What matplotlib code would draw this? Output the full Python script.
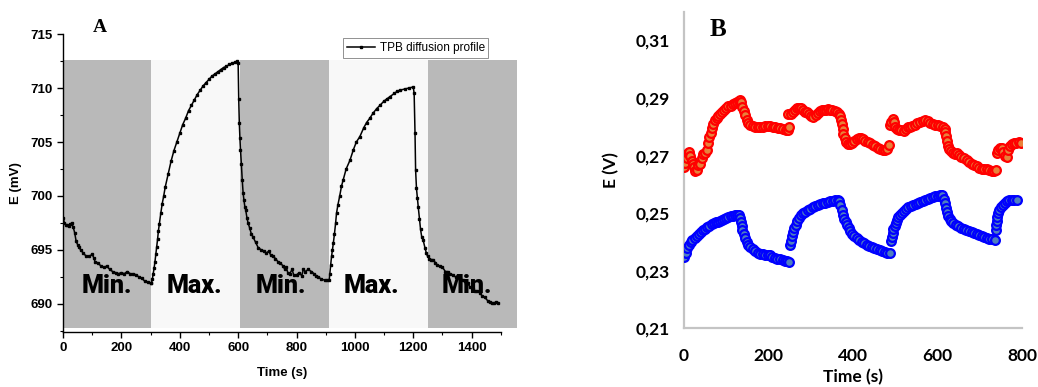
import matplotlib
matplotlib.use("Agg")
import matplotlib.pyplot as plt
from matplotlib.patches import Rectangle

# ---------------- Panel A data ----------------
a_time = [0,5,10,15,20,25,30,35,40,45,50,55,60,70,80,90,100,105,110,120,130,140,150,160,170,180,190,200,210,220,230,240,250,260,270,280,290,300,
          303,306,309,312,315,318,321,324,327,330,335,340,345,350,360,370,380,390,400,410,420,430,440,450,460,470,480,490,500,510,520,530,540,550,560,570,580,590,597,
          600,602,604,606,608,611,614,617,620,623,626,630,634,640,645,651,660,669,680,690,697,705,712,720,728,737,745,754,760,765,770,777,785,790,800,810,818,823,830,840,851,860,868,874,885,897,905,912,
          914,917,920,923,926,930,934,937,942,948,954,960,970,983,995,1005,1017,1030,1040,1051,1063,1075,1086,1100,1110,1120,1135,1145,1154,1170,1185,1200,
          1203,1206,1208,1211,1214,1217,1221,1225,1229,1234,1240,1245,1249,1255,1262,1269,1276,1283,1291,1300,1310,1318,1326,1335,1345,1352,1360,1370,1380,1387,1394,1403,1410,1420,1429,1437,1445,1455,1463,1470,1478,1485,1491]
a_E = [698.0,697.5,697.3,697.3,697.2,697.4,697.5,697.1,696.6,695.8,695.5,695.3,695.0,694.7,694.4,694.4,694.6,694.3,693.9,693.8,693.5,693.4,693.5,693.2,693.0,692.9,692.8,692.9,692.8,693.0,692.8,692.8,692.7,692.5,692.4,692.1,692.0,691.9,
       691.9,692.3,692.8,693.3,693.9,694.6,695.3,696.0,696.8,697.4,698.4,699.3,700.0,700.8,702.0,703.2,704.2,705.0,705.8,706.6,707.2,707.9,708.4,708.9,709.4,709.8,710.2,710.5,710.8,711.1,711.3,711.5,711.7,711.9,712.0,712.2,712.3,712.4,712.5,
       712.3,709.0,706.8,705.4,704.3,703.0,701.5,700.3,699.6,699.0,698.7,698.0,697.5,697.0,696.5,696.2,695.7,695.2,695.0,694.9,694.7,694.9,694.5,694.4,694.2,693.9,693.8,693.5,693.2,693.4,692.9,692.8,693.2,692.7,692.7,692.9,692.6,693.2,693.0,693.2,693.0,692.8,692.6,692.5,692.3,692.2,692.2,692.2,
       692.8,693.6,694.4,695.0,695.6,696.5,697.5,698.4,699.2,700.0,700.9,701.5,702.5,703.3,704.3,705.0,705.5,706.3,706.8,707.2,707.7,708.1,708.4,708.8,709.0,709.2,709.5,709.7,709.8,709.9,710.0,710.1,
       709.5,705.8,702.4,700.7,699.8,699.0,697.9,696.9,696.2,695.9,695.2,694.7,694.4,694.2,694.1,694.1,693.8,693.6,693.5,693.4,693.0,693.0,692.8,692.7,692.5,692.6,692.4,692.2,691.9,691.9,691.6,691.4,691.2,691.2,691.0,690.7,690.6,690.3,690.2,690.1,690.1,690.2,690.1]

phase_starts = [0, 303, 608, 912, 1249]
phase_ends = [303, 608, 912, 1249, 1555]
phase_labels = ["Min.", "Max.", "Min.", "Max.", "Min."]
phase_label_x = [150, 450, 745, 1055, 1385]
a_xticks = [0, 200, 400, 600, 800, 1000, 1200, 1400]
a_yticks = [690, 695, 700, 705, 710, 715]

# ---------------- Panel B data ----------------
blue_segments_t = [
    [0,4,8,12,16,20,25,30,35,40,45,50,55,60,65,70,75,80,85,90,95,100,105,110,115,120,125,129,132,134,136,138,141,144,148,152,156,162,168,174,180,186,192,198,203,209,215,221,227,233,239,244,249],
    [251,253,255,258,261,264,268,272,277,282,287,292,298,304,310,316,322,328,334,340,346,353,358,363,367,370,373,376,379,382,385,389,393,397,402,408,414,420,426,432,438,444,450,456,463,469,475,481,487],
    [489,491,493,495,498,501,504,507,511,515,520,525,530,536,542,548,553,558,564,570,576,582,588,594,600,606,611,614,617,619,621,624,628,632,637,643,649,655,661,667,674,680,686,692,698,704,710,716,722,728,735],
    [737,738,739,741,743,746,750,754,758,763,769,775,781,787],
]
blue_segments_E = [
    [0.2348,0.2362,0.2378,0.2390,0.2400,0.2408,0.2414,0.2422,0.2428,0.2434,0.2440,0.2446,0.2451,0.2456,0.2461,0.2465,0.2468,0.2471,0.2474,0.2477,0.2480,0.2483,0.2486,0.2489,0.2491,0.2493,0.2494,0.2492,0.2482,0.2468,0.2454,0.2440,0.2426,0.2412,0.2400,0.2390,0.2382,0.2374,0.2367,0.2362,0.2359,0.2357,0.2355,0.2354,0.2353,0.2349,0.2345,0.2342,0.2340,0.2337,0.2335,0.2333,0.2330],
    [0.2388,0.2405,0.2420,0.2435,0.2448,0.2460,0.2472,0.2483,0.2492,0.2499,0.2505,0.2511,0.2516,0.2520,0.2524,0.2528,0.2532,0.2535,0.2537,0.2539,0.2541,0.2543,0.2545,0.2546,0.2542,0.2528,0.2510,0.2494,0.2480,0.2468,0.2458,0.2447,0.2438,0.2429,0.2421,0.2413,0.2407,0.2401,0.2396,0.2391,0.2387,0.2383,0.2379,0.2375,0.2371,0.2367,0.2364,0.2362,0.2361],
    [0.2405,0.2418,0.2432,0.2444,0.2456,0.2467,0.2477,0.2486,0.2495,0.2502,0.2509,0.2515,0.2520,0.2525,0.2529,0.2532,0.2535,0.2538,0.2542,0.2546,0.2550,0.2553,0.2555,0.2558,0.2560,0.2562,0.2562,0.2550,0.2535,0.2518,0.2503,0.2490,0.2480,0.2473,0.2467,0.2460,0.2454,0.2449,0.2445,0.2441,0.2437,0.2433,0.2430,0.2427,0.2424,0.2420,0.2417,0.2414,0.2411,0.2409,0.2408],
    [0.2443,0.2458,0.2474,0.2488,0.2500,0.2512,0.2522,0.2530,0.2537,0.2541,0.2544,0.2546,0.2547,0.2547],
]
red_segments_t = [
    [0,3,6,9,12,15,18,21,24,27,30,34,38,42,46,50,54,57,60,63,66,69,73,77,81,85,90,95,100,105,110,115,120,125,129,132,135,138,141,144,148,152,157,162,168,174,180,186,192,198,204,210,216,222,228,234,240,245,249],
    [247,252,257,262,266,271,276,281,286,291,296,301,306,311,316,321,326,331,336,341,346,351,356,361,366,369,371,373,375,377,380,384,388,393,398,403,408,413,418,423,428,434,440,446,452,458,464,470,475,480,485],
    [487,490,493,496,499,503,508,513,519,524,529,534,540,546,552,558,564,570,576,582,588,594,600,606,612,616,618,620,622,624,627,631,636,641,646,651,656,662,668,674,680,686,692,698,704,710,716,722,728,734,738],
    [739,743,747,751,755,759,763,767,771,775,780,786,792,798],
]
red_segments_E = [
    [0.2659,0.2675,0.2693,0.2710,0.2714,0.2698,0.2682,0.2672,0.2659,0.2645,0.2650,0.2668,0.2672,0.2690,0.2705,0.2710,0.2718,0.2745,0.2765,0.2780,0.2795,0.2810,0.2822,0.2830,0.2838,0.2843,0.2850,0.2858,0.2866,0.2872,0.2874,0.2878,0.2882,0.2885,0.2890,0.2893,0.2885,0.2870,0.2855,0.2840,0.2822,0.2812,0.2806,0.2802,0.2800,0.2798,0.2798,0.2800,0.2802,0.2804,0.2803,0.2800,0.2798,0.2797,0.2795,0.2793,0.2790,0.2788,0.2800],
    [0.2843,0.2846,0.2850,0.2858,0.2864,0.2866,0.2864,0.2858,0.2852,0.2850,0.2846,0.2838,0.2834,0.2840,0.2848,0.2854,0.2858,0.2860,0.2860,0.2862,0.2860,0.2860,0.2856,0.2852,0.2846,0.2838,0.2825,0.2810,0.2793,0.2776,0.2760,0.2748,0.2742,0.2742,0.2745,0.2752,0.2758,0.2762,0.2760,0.2756,0.2752,0.2748,0.2744,0.2738,0.2732,0.2726,0.2722,0.2720,0.2718,0.2724,0.2738],
    [0.2808,0.2818,0.2826,0.2815,0.2800,0.2792,0.2790,0.2788,0.2787,0.2794,0.2800,0.2799,0.2803,0.2808,0.2812,0.2816,0.2820,0.2824,0.2820,0.2814,0.2810,0.2808,0.2805,0.2802,0.2798,0.2794,0.2783,0.2768,0.2752,0.2735,0.2722,0.2716,0.2710,0.2705,0.2708,0.2702,0.2696,0.2690,0.2685,0.2677,0.2672,0.2668,0.2663,0.2658,0.2655,0.2654,0.2653,0.2650,0.2648,0.2648,0.2650],
    [0.2710,0.2720,0.2728,0.2726,0.2712,0.2700,0.2695,0.2718,0.2733,0.2740,0.2744,0.2745,0.2746,0.2745],
]
b_xticks = [0, 200, 400, 600, 800]
b_yticks = [0.21, 0.23, 0.25, 0.27, 0.29, 0.31]
b_ytick_labels = ["0,21", "0,23", "0,25", "0,27", "0,29", "0,31"]

# ---------------- Figure ----------------
fig = plt.figure(figsize=(10.38, 3.87), dpi=100)
fig.patch.set_facecolor("white")

# Panel A
axA = fig.add_axes([0.0607, 0.1421, 0.4218, 0.7699])
axA.set_xlim(0, 1500)
axA.set_ylim(687.4, 715)
band_colors = ["#b9b9b9", "#f8f8f8", "#b9b9b9", "#f8f8f8", "#b9b9b9"]
for s, e, c in zip(phase_starts, phase_ends, band_colors):
    axA.add_patch(Rectangle((s, 687.8), e - s, 712.6 - 687.8, facecolor=c,
                            edgecolor="none", zorder=0, clip_on=False))
for lx, lab in zip(phase_label_x, phase_labels):
    axA.text(lx, 691.7, lab, ha="center", va="center", fontsize=18,
             fontweight="heavy", family="Roboto", color="black", zorder=5)
axA.plot(a_time, a_E, color="black", lw=1.1, marker="s", ms=2.0,
         mec="black", mfc="black", zorder=4, label="TPB diffusion profile")
for sp in ["top", "right"]:
    axA.spines[sp].set_visible(False)
axA.spines["left"].set_linewidth(1.0)
axA.spines["bottom"].set_linewidth(1.0)
axA.set_xticks(a_xticks)
axA.set_xticklabels([str(v) for v in a_xticks], fontweight="bold",
                    family="Liberation Sans", fontsize=9.5)
axA.set_yticks(a_yticks)
axA.set_yticklabels([str(v) for v in a_yticks], fontweight="bold",
                    family="Liberation Sans", fontsize=9.5)
axA.set_xticks(range(0, 1501, 100), minor=True)
axA.set_yticks([687.5 + 2.5 * i for i in range(11)], minor=True)
axA.tick_params(which="major", direction="out", length=4, width=1)
axA.tick_params(which="minor", direction="out", length=2.5, width=0.8)
axA.set_xlabel("Time (s)", fontsize=9.5, fontweight="bold", family="Liberation Sans", labelpad=9)
axA.set_ylabel("E (mV)", fontsize=9.5, fontweight="bold", family="Liberation Sans", labelpad=6)
leg = axA.legend(loc="upper right", bbox_to_anchor=(0.985, 1.005),
                 frameon=True, fancybox=False, framealpha=1, edgecolor="#808080",
                 handlelength=2.4, borderpad=0.3, handletextpad=0.4,
                 prop={"family": "Liberation Sans", "size": 8.5})
leg.get_frame().set_linewidth(0.6)
fig.text(100 / 1038, 1 - 27 / 387, "A", fontsize=14, fontweight="bold",
         family="Liberation Serif", ha="center", va="center")

# Panel B
axB = fig.add_axes([0.659, 0.1517, 0.3259, 0.8181])
axB.set_xlim(0, 800)
axB.set_ylim(0.21, 0.32)
for t, e in zip(red_segments_t, red_segments_E):
    axB.plot(t, e, linestyle="none", marker="o", ms=6.3, mec="#ff0000",
             mfc="#e8813a", mew=1.6, zorder=3)
for t, e in zip(blue_segments_t, blue_segments_E):
    axB.plot(t, e, linestyle="none", marker="o", ms=6.3, mec="#0000ff",
             mfc="#4f7fbf", mew=1.6, zorder=3)
for sp in ["top", "right"]:
    axB.spines[sp].set_visible(False)
for sp in ["left", "bottom"]:
    axB.spines[sp].set_color("#c4c4c4")
    axB.spines[sp].set_linewidth(1.6)
axB.set_xticks(b_xticks)
axB.set_xticklabels([str(v) for v in b_xticks], fontweight="bold",
                    family="Lato", fontsize=12.5)
axB.set_yticks(b_yticks)
axB.set_yticklabels(b_ytick_labels, fontweight="bold", family="Lato",
                    fontsize=12.5)
axB.tick_params(axis="y", length=0, pad=10)
axB.tick_params(axis="x", length=0, pad=14)
axB.set_xlabel("Time (s)", fontsize=12.5, fontweight="bold", family="Lato", labelpad=4)
axB.set_ylabel("E (V)", fontsize=12.5, fontweight="bold", family="Lato", labelpad=12)
fig.text(718 / 1038, 1 - 29 / 387, "B", fontsize=18, fontweight="bold",
         family="Liberation Serif", ha="center", va="center")

fig.savefig("out.png", dpi=100, facecolor="white")
